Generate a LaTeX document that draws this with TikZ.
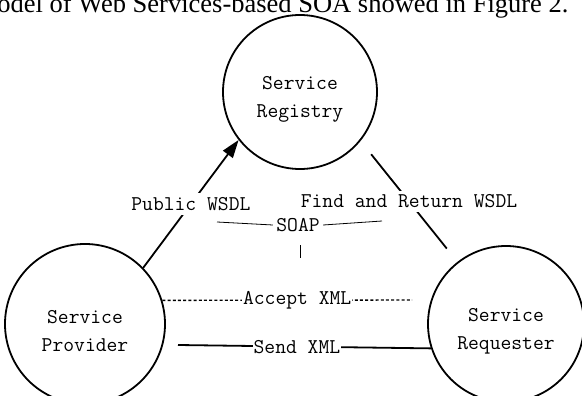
\documentclass[tikz,border=0pt]{standalone}
\usepackage{fontspec}
\usepackage{tikz}
\usetikzlibrary{arrows.meta}
\newfontfamily\bodyfont{Liberation Serif}

\begin{document}
\begin{tikzpicture}[x=1pt,y=-1pt,
		party/.style={circle, draw, line width=1.8pt, inner sep=0pt, align=center, text height=55pt},
		lbl/.style={fill=white, inner xsep=1pt, inner ysep=4pt},
		every node/.style={font=\fontsize{21}{28}\selectfont\ttfamily}]
		\clip (0,0) rectangle (582,396);
		% page text above the figure
		\node[anchor=base east, font=\fontsize{26.5}{30}\selectfont\bodyfont] (caption) at (572,13) {odel of Web Services-based SOA showed in Figure 2.};
		% the three roles
		\node[party, minimum size=154pt] (reg) at (300,92) {Service\\Registry};
		\node[party, minimum size=160pt] (prov) at (85,324) {Service\\Provider};
		\node[party, minimum size=156pt] (req) at (506,324) {Service\\Requester};
		\coordinate (acc) at (412,300);
		\coordinate (snd) at (178,345);
		\coordinate (s1) at (217,222);
		\coordinate (s2) at (382,221);
		\coordinate (t1) at (300,245);
		\coordinate (t2) at (300,258);
		% messages
		\draw[line width=1.8pt, -{Triangle[length=18pt,width=12pt]}] (prov.44) -- node[lbl]{Public WSDL} (reg.-142);
		\draw[line width=1.8pt, shorten <=17pt, shorten >=17pt] (reg.-39) -- node[lbl]{Find and Return WSDL} (req.128);
		\draw[line width=1.4pt, dash pattern=on 3pt off 2.2pt] (prov.17) -- node[lbl, pos=0.54]{Accept XML} (acc);
		\draw[line width=1.8pt] (snd) -- node[lbl, pos=0.47]{Send XML} (req.-162);
		% SOAP
		\node (soap) at (298,225) {SOAP};
		\draw[line width=0.8pt] (s1) -- (soap.west);
		\draw[line width=0.8pt] (soap.east) -- (s2);
		\draw[line width=0.8pt] (t1) -- (t2);
	\end{tikzpicture}
\end{document}
